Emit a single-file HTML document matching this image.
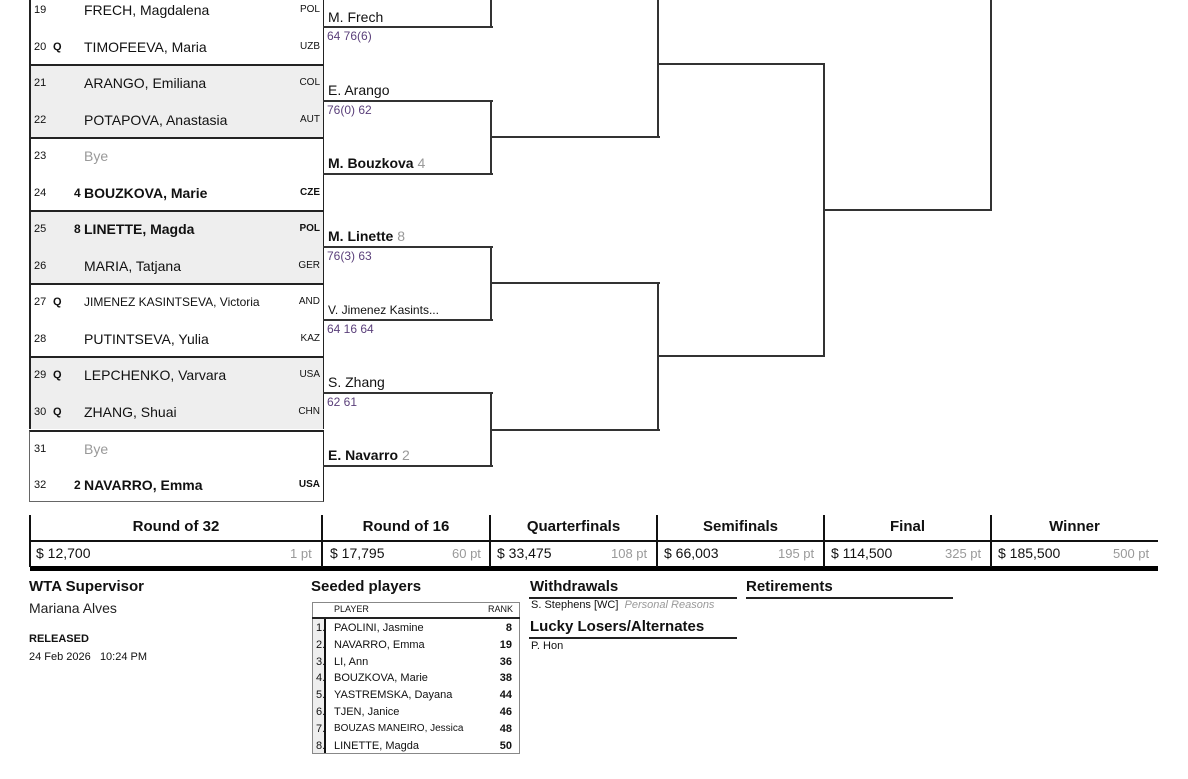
<!DOCTYPE html>
<html><head><meta charset="utf-8"><style>
*{margin:0;padding:0;box-sizing:border-box}
body{width:1188px;height:779px;position:relative;overflow:hidden;background:#fff;font-family:"Liberation Sans",sans-serif;color:#111}
.a{position:absolute;white-space:nowrap}
.row{position:absolute;left:30px;width:293px;height:36.5px}
.n{position:absolute;left:4px;top:13px;font-size:11px}
.q{position:absolute;left:23px;top:13px;font-size:11px;font-weight:bold}
.s{position:absolute;left:44px;top:12px;font-size:12px;font-weight:bold}
.nm{position:absolute;left:54px;top:11px;font-size:14px}
.c{position:absolute;right:3px;top:13px;font-size:10px}
.b{font-weight:bold}
.bye{color:#999}
.pair{position:absolute;left:29px;width:295px;height:73px;border-left:2px solid #222;border-right:1px solid #222;border-top:2px solid #222}
.h{position:absolute;height:2px;background:#333}
.v{position:absolute;width:2px;background:#333}
.w{position:absolute;left:328px;font-size:14px}
.sc{position:absolute;left:327px;font-size:12px;color:#5a3f7a}
.sd{color:#999;font-weight:normal}
</style></head><body>

<div class="pair" style="top:-9px"></div>
<div class="pair" style="top:64px;background:#eee"></div>
<div class="pair" style="top:137px"></div>
<div class="pair" style="top:210px;background:#eee"></div>
<div class="pair" style="top:283px"></div>
<div class="pair" style="top:356px;background:#eee"></div>
<div class="pair" style="top:430px;height:72px;border-bottom:1px solid #666;border-left:1px solid #666"></div>

<div class="row" style="top:-9px"><span class="n">19</span><span class="nm">FRECH, Magdalena</span><span class="c">POL</span></div>
<div class="row" style="top:27.5px"><span class="n">20</span><span class="q">Q</span><span class="nm">TIMOFEEVA, Maria</span><span class="c">UZB</span></div>
<div class="row" style="top:64px"><span class="n">21</span><span class="nm">ARANGO, Emiliana</span><span class="c">COL</span></div>
<div class="row" style="top:100.5px"><span class="n">22</span><span class="nm">POTAPOVA, Anastasia</span><span class="c">AUT</span></div>
<div class="row" style="top:137px"><span class="n">23</span><span class="nm bye">Bye</span></div>
<div class="row" style="top:173.5px"><span class="n">24</span><span class="s">4</span><span class="nm b">BOUZKOVA, Marie</span><span class="c b">CZE</span></div>
<div class="row" style="top:210px"><span class="n">25</span><span class="s">8</span><span class="nm b">LINETTE, Magda</span><span class="c b">POL</span></div>
<div class="row" style="top:246.5px"><span class="n">26</span><span class="nm">MARIA, Tatjana</span><span class="c">GER</span></div>
<div class="row" style="top:283px"><span class="n">27</span><span class="q">Q</span><span class="nm" style="font-size:12px;top:12px">JIMENEZ KASINTSEVA, Victoria</span><span class="c">AND</span></div>
<div class="row" style="top:319.5px"><span class="n">28</span><span class="nm">PUTINTSEVA, Yulia</span><span class="c">KAZ</span></div>
<div class="row" style="top:356px"><span class="n">29</span><span class="q">Q</span><span class="nm">LEPCHENKO, Varvara</span><span class="c">USA</span></div>
<div class="row" style="top:392.5px"><span class="n">30</span><span class="q">Q</span><span class="nm">ZHANG, Shuai</span><span class="c">CHN</span></div>
<div class="row" style="top:430px"><span class="n">31</span><span class="nm bye">Bye</span></div>
<div class="row" style="top:466px"><span class="n">32</span><span class="s">2</span><span class="nm b">NAVARRO, Emma</span><span class="c b">USA</span></div>

<div class="h" style="left:323px;width:170px;top:26px"></div>
<div class="v" style="left:490px;top:0;height:28px"></div>
<div class="w" style="top:9px">M. Frech</div>
<div class="sc" style="top:29px">64 76(6)</div>

<div class="h" style="left:323px;width:170px;top:100px"></div>
<div class="h" style="left:323px;width:170px;top:173px"></div>
<div class="v" style="left:490px;top:100px;height:75px"></div>
<div class="w" style="top:82px">E. Arango</div>
<div class="sc" style="top:103px">76(0) 62</div>
<div class="w b" style="top:155px">M. Bouzkova <span class="sd">4</span></div>

<div class="h" style="left:323px;width:170px;top:246px"></div>
<div class="h" style="left:323px;width:170px;top:319px"></div>
<div class="v" style="left:490px;top:246px;height:75px"></div>
<div class="w b" style="top:228px">M. Linette <span class="sd">8</span></div>
<div class="sc" style="top:249px">76(3) 63</div>
<div class="w" style="top:303px;font-size:12px">V. Jimenez Kasints...</div>
<div class="sc" style="top:322px">64 16 64</div>

<div class="h" style="left:323px;width:170px;top:392px"></div>
<div class="h" style="left:323px;width:170px;top:465px"></div>
<div class="v" style="left:490px;top:392px;height:75px"></div>
<div class="w" style="top:374px">S. Zhang</div>
<div class="sc" style="top:395px">62 61</div>
<div class="w b" style="top:447px">E. Navarro <span class="sd">2</span></div>

<div class="h" style="left:490px;width:170px;top:136px"></div>
<div class="v" style="left:657px;top:0;height:138px"></div>
<div class="h" style="left:490px;width:170px;top:282px"></div>
<div class="h" style="left:490px;width:170px;top:429px"></div>
<div class="v" style="left:657px;top:282px;height:149px"></div>
<div class="h" style="left:657px;width:168px;top:63px"></div>
<div class="h" style="left:657px;width:168px;top:355px"></div>
<div class="v" style="left:823px;top:63px;height:294px"></div>
<div class="h" style="left:823px;width:169px;top:209px"></div>
<div class="v" style="left:990px;top:0;height:211px"></div>

<div class="a" style="left:30px;top:515px;width:1128px;height:56px;border-bottom:5px solid #000"></div>
<div class="h" style="left:30px;width:1128px;top:540px;background:#111"></div>
<div class="v" style="left:29px;top:515px;height:52px;background:#111"></div>
<div class="v" style="left:321px;top:515px;height:52px;background:#111"></div>
<div class="v" style="left:489px;top:515px;height:52px;background:#111"></div>
<div class="v" style="left:656px;top:515px;height:52px;background:#111"></div>
<div class="v" style="left:823px;top:515px;height:52px;background:#111"></div>
<div class="v" style="left:990px;top:515px;height:52px;background:#111"></div>
<div class="a b" style="left:30px;width:292px;top:518px;text-align:center;font-size:15px">Round of 32</div>
<div class="a b" style="left:322px;width:168px;top:518px;text-align:center;font-size:15px">Round of 16</div>
<div class="a b" style="left:490px;width:167px;top:518px;text-align:center;font-size:15px">Quarterfinals</div>
<div class="a b" style="left:657px;width:167px;top:518px;text-align:center;font-size:15px">Semifinals</div>
<div class="a b" style="left:824px;width:167px;top:518px;text-align:center;font-size:15px">Final</div>
<div class="a b" style="left:991px;width:167px;top:518px;text-align:center;font-size:15px">Winner</div>
<div class="a" style="left:36px;top:545px;font-size:14px">$ 12,700</div><div class="a" style="left:290px;top:546px;font-size:13px;color:#999">1 pt</div>
<div class="a" style="left:330px;top:545px;font-size:14px">$ 17,795</div><div class="a" style="left:452px;top:546px;font-size:13px;color:#999">60 pt</div>
<div class="a" style="left:497px;top:545px;font-size:14px">$ 33,475</div><div class="a" style="left:611px;top:546px;font-size:13px;color:#999">108 pt</div>
<div class="a" style="left:664px;top:545px;font-size:14px">$ 66,003</div><div class="a" style="left:778px;top:546px;font-size:13px;color:#999">195 pt</div>
<div class="a" style="left:831px;top:545px;font-size:14px">$ 114,500</div><div class="a" style="left:945px;top:546px;font-size:13px;color:#999">325 pt</div>
<div class="a" style="left:998px;top:545px;font-size:14px">$ 185,500</div><div class="a" style="left:1113px;top:546px;font-size:13px;color:#999">500 pt</div>

<div class="a b" style="left:29px;top:578px;font-size:15px">WTA Supervisor</div>
<div class="a" style="left:29px;top:600px;font-size:14px;color:#222">Mariana Alves</div>
<div class="a b" style="left:29px;top:633px;font-size:11px">RELEASED</div>
<div class="a" style="left:29px;top:651px;font-size:11px">24 Feb 2026 &nbsp; 10:24 PM</div>

<div class="a b" style="left:311px;top:578px;font-size:15px">Seeded players</div>
<div class="a" style="left:312px;top:602px;width:208px;height:152px;border:1px solid #888"></div>
<div class="h" style="left:312px;width:208px;top:617px;background:#222"></div>
<div class="a" style="left:313px;top:619px;width:13px;height:134px;background:#eee;border-right:2px solid #111"></div>
<div class="a" style="left:334px;top:604px;font-size:9px">PLAYER</div>
<div class="a" style="left:488px;top:604px;font-size:9px">RANK</div>
<div class="a" style="left:312px;top:620px;width:206px;font-size:11px;line-height:16.8px">
<div style="position:relative;height:16.8px"><span class="a" style="left:4px">1.</span><span class="a" style="left:22px">PAOLINI, Jasmine</span><span class="a b" style="right:6px">8</span></div>
<div style="position:relative;height:16.8px"><span class="a" style="left:4px">2.</span><span class="a" style="left:22px">NAVARRO, Emma</span><span class="a b" style="right:6px">19</span></div>
<div style="position:relative;height:16.8px"><span class="a" style="left:4px">3.</span><span class="a" style="left:22px">LI, Ann</span><span class="a b" style="right:6px">36</span></div>
<div style="position:relative;height:16.8px"><span class="a" style="left:4px">4.</span><span class="a" style="left:22px">BOUZKOVA, Marie</span><span class="a b" style="right:6px">38</span></div>
<div style="position:relative;height:16.8px"><span class="a" style="left:4px">5.</span><span class="a" style="left:22px">YASTREMSKA, Dayana</span><span class="a b" style="right:6px">44</span></div>
<div style="position:relative;height:16.8px"><span class="a" style="left:4px">6.</span><span class="a" style="left:22px">TJEN, Janice</span><span class="a b" style="right:6px">46</span></div>
<div style="position:relative;height:16.8px"><span class="a" style="left:4px">7.</span><span class="a" style="left:22px;font-size:10px">BOUZAS MANEIRO, Jessica</span><span class="a b" style="right:6px">48</span></div>
<div style="position:relative;height:16.8px"><span class="a" style="left:4px">8.</span><span class="a" style="left:22px">LINETTE, Magda</span><span class="a b" style="right:6px">50</span></div>
</div>

<div class="a b" style="left:530px;top:578px;font-size:15px">Withdrawals</div>
<div class="h" style="left:529px;width:208px;top:597px;background:#222"></div>
<div class="a" style="left:531px;top:599px;font-size:11px">S. Stephens [WC] &nbsp;<i style="color:#999">Personal Reasons</i></div>
<div class="a b" style="left:530px;top:618px;font-size:15px">Lucky Losers/Alternates</div>
<div class="h" style="left:529px;width:208px;top:637px;background:#222"></div>
<div class="a" style="left:531px;top:640px;font-size:11px">P. Hon</div>
<div class="a b" style="left:746px;top:578px;font-size:15px">Retirements</div>
<div class="h" style="left:746px;width:207px;top:597px;background:#222"></div>
</body></html>
